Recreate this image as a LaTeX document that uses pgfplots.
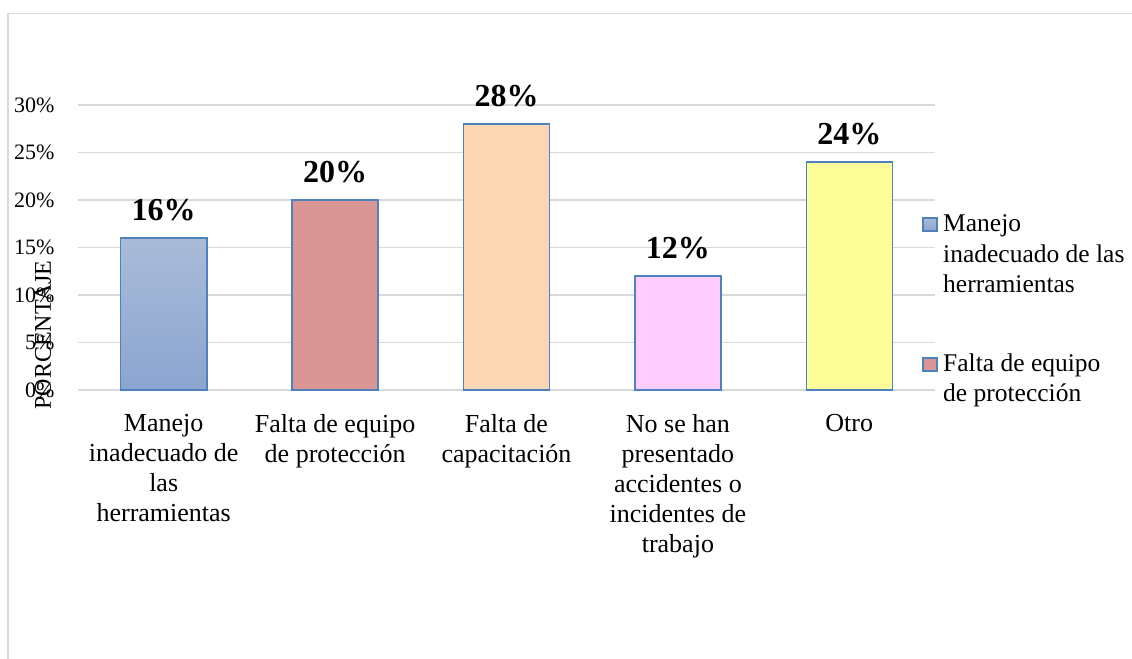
\documentclass[border=0pt]{standalone}
\usepackage{fontspec}
\setmainfont{Liberation Serif}
\usepackage{pgfplots}
\pgfplotsset{compat=1.18}
\definecolor{gridc}{HTML}{D9D9D9}
\definecolor{edgec}{HTML}{4F81BD}
\definecolor{cA}{HTML}{D99694}
\definecolor{cB}{HTML}{FCD5B5}
\definecolor{cC}{HTML}{FFCCFF}
\definecolor{cD}{HTML}{FFFF99}
\definecolor{gTop}{HTML}{AABBD8}
\definecolor{gBot}{HTML}{8BA5D0}
\begin{document}
\begin{tikzpicture}
\useasboundingbox (0,0) rectangle (1132bp,659bp);
\fill[white] (0,0) rectangle (1132bp,659bp);
\draw[gridc, line width=1.5bp] (8bp,0) -- (8bp,645.5bp) -- (1132bp,645.5bp);
\begin{axis}[
  at={(78bp,269bp)}, anchor=south west,
  scale only axis, width=857bp, height=285bp,
  xmin=-0.5, xmax=4.5, ymin=0, ymax=30,
  ytick={0,5,...,30},
  /pgf/number format/assume math mode=true,
  yticklabel={\pgfmathprintnumber{\tick}\%},
  xtick={0,1,2,3,4},
  xticklabels={{Manejo\\inadecuado de\\las\\herramientas},{Falta de equipo\\de protección},{Falta de\\capacitación},{No se han\\presentado\\accidentes o\\incidentes de\\trabajo},{Otro}},
  major tick length=0pt,
  axis line style={draw=none},
  ymajorgrids, grid style={gridc, line width=1.3bp},
  yticklabel style={font=\fontsize{22bp}{26bp}\selectfont, xshift=-20bp},
  xticklabel style={font=\fontsize{26bp}{30bp}\selectfont, align=center, anchor=north, yshift=-21bp},
  ybar, bar width=86bp, bar shift=0pt,
  nodes near coords={\pgfmathprintnumber{\pgfplotspointmeta}\%},
  every node near coord/.append style={font=\fontsize{32bp}{36bp}\selectfont\bfseries, anchor=base, yshift=17bp},
  clip=false,
]
\addplot[draw=edgec, line width=1.6bp, top color=gTop, bottom color=gBot] coordinates {(0,16)};
\addplot[draw=edgec, line width=1.5bp, fill=cA] coordinates {(1,20)};
\addplot[draw=edgec, line width=1.5bp, fill=cB] coordinates {(2,28)};
\addplot[draw=edgec, line width=1.5bp, fill=cC] coordinates {(3,12)};
\addplot[draw=edgec, line width=1.5bp, fill=cD] coordinates {(4,24)};
\end{axis}
\node[rotate=90, font=\fontsize{24bp}{28bp}\selectfont] at (43bp,324bp) {PORCENTAJE};
% legend
\draw[edgec, line width=1.2bp, top color=gTop, bottom color=gBot] (923bp,441bp) rectangle (937bp,428bp);
\draw[edgec, line width=1.2bp, fill=cA] (923bp,301bp) rectangle (937bp,288bp);
\begin{scope}[every node/.style={font=\fontsize{25.5bp}{30bp}\selectfont, anchor=base west, inner sep=0pt}]
\node at (943bp,427bp) {Manejo};
\node at (943bp,396bp) {inadecuado de las};
\node at (943bp,366bp) {herramientas};
\node at (943bp,287bp) {Falta de equipo};
\node at (943bp,257bp) {de protección};
\end{scope}
\end{tikzpicture}
\end{document}
